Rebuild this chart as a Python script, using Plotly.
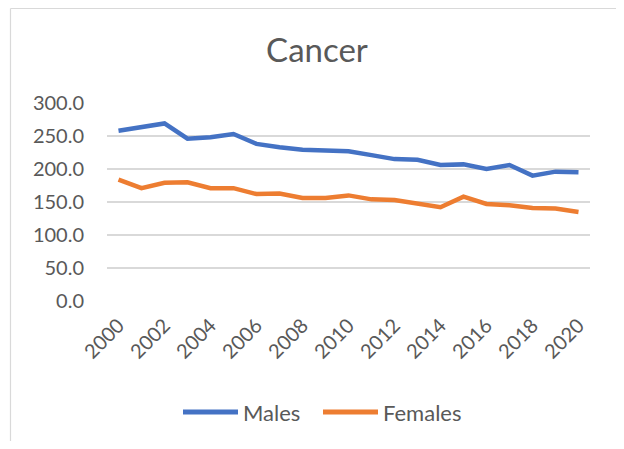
import plotly.graph_objects as go

# Cancer rates by year
years = list(range(2000, 2021))
males = [258, 264, 269, 246, 248, 253, 238, 233, 229, 228, 227,
         221, 215, 214, 206, 207, 200, 206, 190, 196, 195]
females = [184, 171, 179, 180, 171, 171, 162, 163, 156, 156, 160,
           154, 153, 148, 142, 158, 147, 145, 141, 140, 135]
series_names = ["Males", "Females"]
series_colors = ["#4472C4", "#ED7D31"]

text_color = "#595959"
grid_color = "#D9D9D9"

# plot area in window pixels (page body has an 8px margin on every side)
PL, PR, PT, PB = 107, 590, 103, 301
W, H = 624 - 16, 449 - 16


def px_x(px):
    return (px - PL) / (PR - PL)


def px_y(py):
    return (PB - py) / (PB - PT)


fig = go.Figure()
for name, vals, col in zip(series_names, [males, females], series_colors):
    fig.add_trace(go.Scatter(x=years, y=vals, name=name, mode="lines",
                             line=dict(color=col, width=4.5), showlegend=False))

# chart-area border: only the left and top edges are inside the picture
fig.add_shape(type="line", xref="paper", yref="paper",
              x0=px_x(10.5), x1=px_x(10.5), y0=px_y(470), y1=px_y(8.5),
              line=dict(color=grid_color, width=1.2), layer="below")
fig.add_shape(type="line", xref="paper", yref="paper",
              x0=px_x(10.5), x1=px_x(700), y0=px_y(8.5), y1=px_y(8.5),
              line=dict(color=grid_color, width=1.2), layer="below")

# legend drawn by hand so the swatches are as long as in the reference
legend_x = [183, 323]
for name, col, lx in zip(series_names, series_colors, legend_x):
    fig.add_shape(type="line", xref="paper", yref="paper",
                  x0=px_x(lx), x1=px_x(lx + 55), y0=px_y(412), y1=px_y(412),
                  line=dict(color=col, width=5))
    fig.add_annotation(text=name, xref="paper", yref="paper",
                       x=px_x(lx + 58), y=px_y(412), xanchor="left", yanchor="middle",
                       showarrow=False, font=dict(size=22, color=text_color))

fig.update_layout(
    width=W, height=H,
    margin=dict(l=PL - 8, r=W + 8 - PR, t=PT - 8, b=H + 8 - PB),
    paper_bgcolor="white", plot_bgcolor="white",
    font=dict(family="Lato, Open Sans, sans-serif", color=text_color, size=20),
    title=dict(text="Cancer", x=(317 - 8) / W, xanchor="center",
               y=1 - 42 / H, yanchor="middle",
               font=dict(size=33, color=text_color)),
    showlegend=False,
    xaxis=dict(range=[1999.5, 2020.5], tickmode="array",
               tickvals=years[::2], ticktext=[str(y) for y in years[::2]],
               tickangle=-45, showgrid=False, zeroline=False, showline=False,
               ticks="", ticklabelstandoff=8),
    yaxis=dict(range=[0, 300], dtick=50, tickformat=".1f",
               showgrid=True, gridcolor=grid_color, gridwidth=1.5,
               zeroline=False, showline=False, ticks="", ticklabelstandoff=22),
)

fig.write_html("out.html")
